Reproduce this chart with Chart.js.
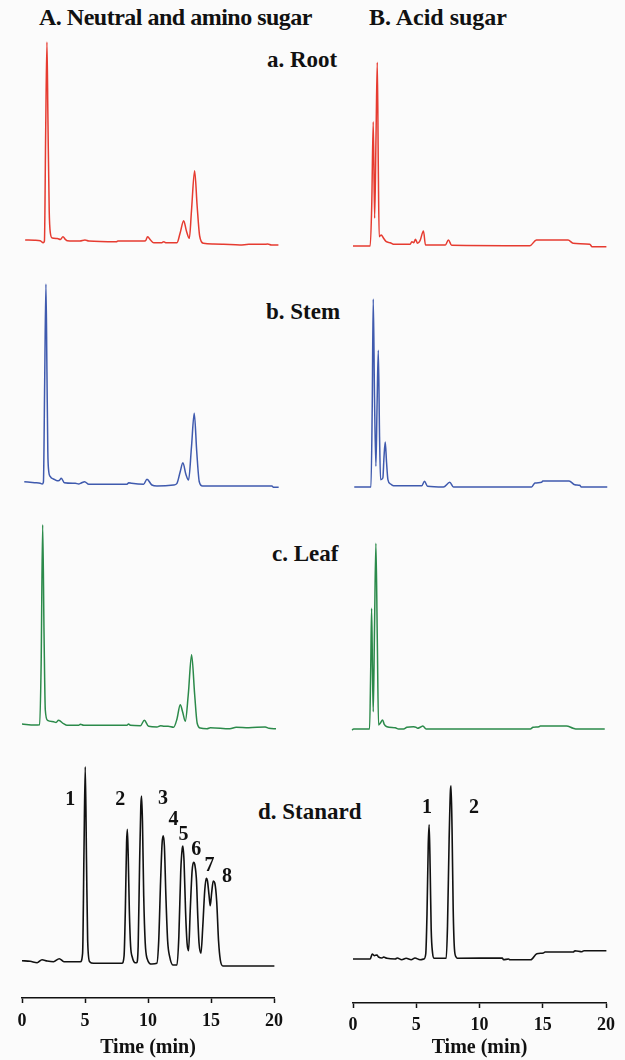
<!DOCTYPE html>
<html>
<head>
<meta charset="utf-8">
<script src="https://cdn.jsdelivr.net/npm/chart.js@4"></script>
<style>
  html, body { margin: 0; padding: 0; background: #fbfbfb; overflow: hidden; }
  body { width: 625px; height: 1060px; position: relative; font-family: "Liberation Serif", "Times New Roman", serif; font-weight: bold; color: #111; }
  canvas { position: absolute; }
  .lbl { position: absolute; line-height: 1; white-space: nowrap; }
</style>
</head>
<body>
<div class="lbl" style="left:39px; top:5px; font-size:24px; letter-spacing:-0.5px">A. Neutral and amino sugar</div>
<div class="lbl" style="left:369px; top:5px; font-size:24px">B. Acid sugar</div>
<div class="lbl" style="left:267px; top:48px; font-size:23px">a. Root</div>
<div class="lbl" style="left:266px; top:300px; font-size:23px">b. Stem</div>
<div class="lbl" style="left:272px; top:542px; font-size:23px">c. Leaf</div>
<div class="lbl" style="left:258px; top:800px; font-size:23px">d. Stanard</div>

<canvas id="ra"></canvas>
<canvas id="rb"></canvas>
<canvas id="sa"></canvas>
<canvas id="sb"></canvas>
<canvas id="la"></canvas>
<canvas id="lb"></canvas>
<canvas id="da"></canvas>
<canvas id="db"></canvas>

<script>
// [time (min), detector response]
const rootNeutral = [[0.25,1],[1.0,0.8],[1.45,0.3],[1.68,-1.7],[1.78,0],[1.88,110],[1.98,199],[2.06,120],[2.16,30],[2.25,8],[2.4,3],[2.8,2.5],[3.05,1.5],[3.25,4.3],[3.45,1.5],[3.6,0.3],[4.6,0],[5.0,1],[5.3,0],[7.5,-0.7],[7.6,0],[9.6,0],[9.8,0.3],[9.97,4.3],[10.2,1],[10.45,-1.7],[11.1,-1.7],[11.25,-0.7],[11.4,-1.7],[12.3,-1.7],[12.55,8],[12.83,20.3],[13.05,10],[13.28,2.7],[13.45,30],[13.7,70.3],[13.9,35],[14.1,5],[14.4,-2.3],[15.2,-3],[16,-3.3],[17.3,-4],[18.0,-3.3],[19.2,-3.3],[19.5,-3],[19.8,-4],[20.35,-4]];
const stemNeutral = [[0.18,0.3],[1.0,-0.7],[1.45,-1.3],[1.6,-2],[1.7,0],[1.8,100],[1.9,198],[1.98,110],[2.05,30],[2.11,12],[2.25,5.3],[2.5,3],[2.78,1.3],[2.95,1.5],[3.12,3.7],[3.36,-0.7],[4.23,-1.3],[4.5,-2],[4.7,-1],[4.97,0.3],[5.3,-2.3],[8.33,-2.3],[8.47,-0.7],[8.7,-1.3],[9.65,-2.3],[9.92,2.7],[10.31,-3],[10.71,-4],[12.03,-3],[12.3,-1.3],[12.55,10],[12.77,19.3],[13.0,8],[13.22,2],[13.45,35],[13.67,68.7],[13.87,30],[14.07,0.3],[14.33,-4],[19.84,-4],[19.95,-5.3],[20.37,-5.3]];
const leafNeutral = [[0,0],[1.0,-1],[1.4,-0.7],[1.52,60],[1.64,199.3],[1.75,90],[1.85,14],[2.03,3.7],[2.51,2.3],[2.7,1.5],[2.9,3.7],[3.3,0.3],[3.57,-1.3],[4.5,-1.3],[4.63,-0.3],[4.9,-1.3],[8.33,-1.3],[8.45,0],[8.6,-1.3],[9.4,-1.7],[9.71,3.7],[10.05,-2.3],[10.71,-3],[11.0,-1.7],[11.3,-2.3],[11.6,-2.3],[12.03,-3.3],[12.3,5],[12.56,19.3],[12.75,12],[12.96,2.7],[13.2,30],[13.46,69.3],[13.7,30],[13.9,1],[14.15,-4],[14.68,-4.7],[14.95,-3.7],[16.5,-4.7],[17.0,-3.3],[18.0,-3.7],[19.3,-3],[19.6,-4.3],[20.16,-4.7]];
const standardNeutral = [[0,0.3],[0.65,-0.3],[1.2,-1.7],[1.59,1.3],[2.0,0],[2.5,-0.7],[2.96,2.3],[3.33,-0.7],[4.63,-0.7],[4.81,7.7],[4.92,110],[5.02,194.3],[5.12,100],[5.21,21],[5.37,-0.7],[5.68,-2.3],[7.93,-2.3],[8.1,5],[8.2,50],[8.3,118],[8.36,131.7],[8.43,105],[8.52,50],[8.62,15],[8.75,4],[8.99,-1.7],[9.1,-1.7],[9.22,15],[9.33,95],[9.43,155],[9.49,165],[9.56,140],[9.66,65],[9.78,18],[9.92,2.7],[10.31,-3],[10.7,-2.3],[10.85,20],[11.0,80],[11.12,118],[11.21,125.3],[11.3,115],[11.42,65],[11.56,20],[11.72,4.3],[11.98,-4],[12.3,-4],[12.45,25],[12.6,90],[12.72,113],[12.77,115],[12.86,100],[12.98,50],[13.1,18],[13.22,10.3],[13.35,50],[13.5,90],[13.62,98.7],[13.72,96],[13.85,80],[13.95,45],[14.05,18],[14.2,7.7],[14.35,35],[14.5,70],[14.62,82.7],[14.72,80],[14.85,65],[14.94,55.3],[15.05,68],[15.18,80],[15.3,78],[15.45,60],[15.6,20],[15.74,1],[15.95,-5],[20.03,-5]];

const rootAcid = [[0,0],[1.36,0],[1.48,40],[1.6,124.3],[1.71,27.7],[1.82,110],[1.92,183.7],[2.0,80],[2.07,9.3],[2.23,11],[2.42,7.7],[2.63,4.3],[2.94,3.3],[3.2,1.7],[4.52,1.7],[4.65,4.3],[4.8,3.3],[4.94,6.7],[5.1,2.7],[5.3,5.3],[5.57,15],[5.73,1],[7.3,1],[7.54,6],[7.8,0.7],[13.98,0.3],[14.5,6],[17.0,6],[17.4,2.7],[18.72,1.7],[18.9,-0.7],[20.03,-0.7]];
const stemAcid = [[0.1,0],[1.42,0],[1.52,80],[1.6,188],[1.7,90],[1.81,20.7],[1.9,80],[2.0,136.7],[2.1,50],[2.18,7.3],[2.36,9],[2.45,30],[2.55,45],[2.65,25],[2.76,7.3],[2.94,3.3],[3.2,1.3],[5.44,1.3],[5.65,5.7],[5.89,0.7],[7.15,0],[7.65,4.7],[7.94,0],[14.12,0],[14.38,4],[14.91,4.7],[15.0,6],[17.08,6],[17.53,2.3],[17.92,1.7],[18.05,0],[20.1,0]];
const leafAcid = [[-0.08,-1],[0.05,0],[1.31,0],[1.4,60],[1.47,120.7],[1.54,60],[1.6,17.3],[1.7,100],[1.81,185.7],[1.92,90],[2.02,4],[2.15,5.7],[2.34,9],[2.47,4.7],[2.68,2.3],[3.34,1.3],[3.6,0],[4.0,0],[4.26,1.7],[4.78,2.3],[5.0,1.7],[5.1,0.7],[5.35,2],[5.52,3],[5.78,0],[14.02,0],[14.23,1.7],[14.71,2.3],[14.8,3],[16.87,3],[17.4,0.7],[17.6,0],[19.9,0]];
const standardAcid = [[0,0],[1.36,0],[1.52,5],[1.68,3.3],[1.89,4],[2.02,2],[2.29,1],[2.42,2],[2.68,0.7],[3.34,0],[3.5,1],[3.85,-0.7],[4.2,0.7],[4.6,-0.7],[4.9,1],[5.3,-0.7],[5.6,0],[5.75,5],[5.85,45],[5.95,115],[6.02,134.3],[6.1,90],[6.18,30],[6.29,6],[6.42,0.7],[7.37,0.7],[7.47,32.7],[7.6,120],[7.7,168],[7.75,173.3],[7.83,130],[7.92,50],[8.02,10],[8.15,2],[8.25,0.7],[11.8,1],[11.9,-0.7],[12.3,0],[12.4,-0.7],[14.05,-0.7],[14.53,5.3],[15.05,6],[15.18,7],[17.41,7],[17.55,8.3],[18.1,7.3],[18.26,8.3],[20.03,8.3]];

// peak numbers on the standards
const neutralPeakText = ['1','2','3','4','5','6','7','8'];
const neutralPeakTime = [3.83, 7.8, 11.19, 12.03, 12.82, 13.83, 14.89, 16.27];
const neutralPeakLevel = [161, 161, 162, 141, 126, 111, 95, 84];
const acidPeakText = ['1','2'];
const acidPeakTime = [5.84, 9.57];
const acidPeakLevel = [151, 151];

const timeTicks = [0, 5, 10, 15, 20];

const RED = '#e63b30', BLUE = '#3f5aae', GREEN = '#2b8a4a', BLACK = '#111';
const FONT = '"Liberation Serif", "Times New Roman", serif';

const peakLabels = {
  id: 'peakLabels',
  afterDatasetsDraw(chart, args, opts) {
    if (!opts.text) return;
    const {ctx, scales: {x, y}} = chart;
    ctx.save();
    ctx.font = 'bold 20px ' + FONT;
    ctx.fillStyle = BLACK;
    ctx.textAlign = 'center';
    ctx.textBaseline = 'middle';
    opts.text.forEach((t, i) => {
      ctx.fillText(t, x.getPixelForValue(opts.time[i]), y.getPixelForValue(opts.level[i]));
    });
    ctx.restore();
  }
};

// column geometry: canvas left/width and plot padding
const cols = {
  A: {left: 2, width: 292, padL: 20, padR: 20},
  B: {left: 333, width: 291, padL: 20, padR: 18}
};

function drawPanel(id, col, base, pts, color, extra) {
  extra = extra || {};
  const c = cols[col];
  const cv = document.getElementById(id);
  let top, height, areaBottom;
  if (extra.axisY) {
    top = 730; height = 1060 - top; areaBottom = extra.axisY;
  } else {
    top = base - 215; height = 232; areaBottom = top + height;
  }
  cv.width = c.width; cv.height = height;
  cv.style.left = c.left + 'px'; cv.style.top = top + 'px';

  const xScale = {
    type: 'linear', min: 0, max: 20, display: !!extra.axisY
  };
  if (extra.axisY) {
    Object.assign(xScale, {
      position: 'bottom',
      afterFit: s => { s.height = 1060 - extra.axisY; },
      afterBuildTicks: s => { s.ticks = timeTicks.map(v => ({value: v})); },
      border: {display: true, color: BLACK, width: 1.5},
      grid: {display: true, drawOnChartArea: false, drawTicks: true, tickLength: 5, tickWidth: 1.5, tickColor: BLACK},
      ticks: {color: BLACK, padding: extra.tickPad, maxRotation: 0, autoSkip: false,
              font: {family: FONT, size: 18, weight: 'bold'}},
      title: {display: true, text: 'Time (min)', color: BLACK, padding: {top: 0, bottom: 0},
              font: {family: FONT, size: 20, weight: 'bold'}}
    });
  }

  new Chart(cv, {
    type: 'line',
    data: {
      datasets: [{
        data: pts.map(p => ({x: p[0], y: p[1]})),
        borderColor: color,
        borderWidth: extra.axisY ? 1.6 : 1.5,
        pointRadius: 0,
        cubicInterpolationMode: 'monotone',
        fill: false,
        clip: false
      }]
    },
    options: {
      responsive: false,
      animation: false,
      events: [],
      layout: {padding: {left: c.padL, right: c.padR, top: 0, bottom: 0}},
      plugins: {
        legend: {display: false},
        tooltip: {enabled: false},
        peakLabels: extra.labels || {}
      },
      scales: {
        x: xScale,
        y: {display: false, min: base - areaBottom, max: base - top}
      }
    },
    plugins: [peakLabels]
  });
}

drawPanel('ra', 'A', 241, rootNeutral, RED);
drawPanel('rb', 'B', 246, rootAcid, RED);
drawPanel('sa', 'A', 482, stemNeutral, BLUE);
drawPanel('sb', 'B', 487, stemAcid, BLUE);
drawPanel('la', 'A', 724, leafNeutral, GREEN);
drawPanel('lb', 'B', 729, leafAcid, GREEN);
drawPanel('da', 'A', 961, standardNeutral, BLACK, {
  axisY: 998, tickPad: 8,
  labels: {text: neutralPeakText, time: neutralPeakTime, level: neutralPeakLevel}
});
drawPanel('db', 'B', 959, standardAcid, BLACK, {
  axisY: 1003, tickPad: 7,
  labels: {text: acidPeakText, time: acidPeakTime, level: acidPeakLevel}
});
</script>
</body>
</html>
